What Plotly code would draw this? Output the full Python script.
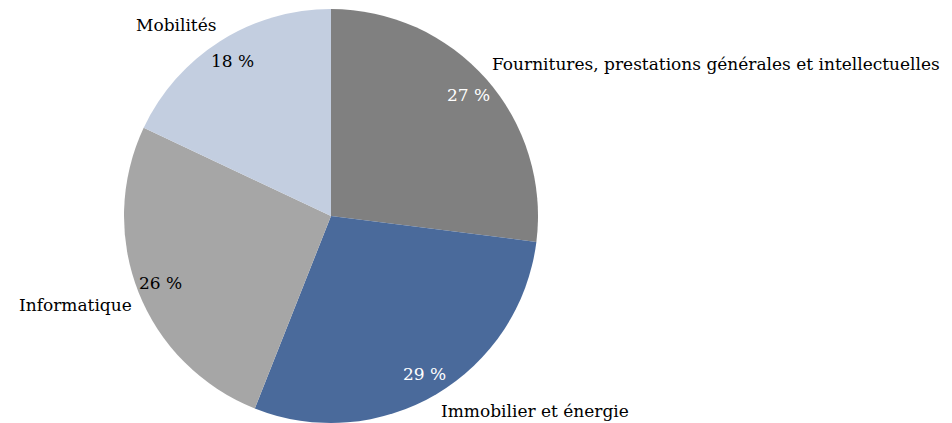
import math
import plotly.graph_objects as go

categories = ["Fournitures, prestations générales et intellectuelles",
              "Immobilier et énergie", "Informatique", "Mobilités"]
values = [27, 29, 26, 18]
colors = ["#808080", "#4A6A9B", "#A6A6A6", "#C3CEE0"]
pct_colors = ["white", "white", "black", "black"]

# page body has an 8px margin: figure origin sits at page (8, 8)
OFF = 8
W, H = 952 - OFF, 423 - OFF
CX, CY = 331 - OFF, 216 - OFF
R = H - CY
FONT = "DejaVu Serif"
FS = 17

fig = go.Figure(go.Pie(
    labels=categories, values=values, sort=False, direction="clockwise",
    rotation=0, marker=dict(colors=colors, line=dict(width=0)),
    textinfo="none", hoverinfo="label+percent", showlegend=False,
    domain=dict(x=[(CX - 230) / W, (CX + 230) / W],
                y=[0, 2 * R / H]),
))

annotations = []
total = sum(values)
cum = 0
for cat, v, pc in zip(categories, values, pct_colors):
    mid = (cum + v / 2) / total * 2 * math.pi
    cum += v
    s, c = math.sin(mid), math.cos(mid)
    px, py = CX + 0.885 * R * s, CY - 0.885 * R * c
    annotations.append(dict(x=px / W, y=1 - py / H, xref="paper", yref="paper",
                            text=f"{v} %", showarrow=False,
                            font=dict(family=FONT, size=FS, color=pc),
                            xanchor="center", yanchor="middle"))
    lx, ly = CX + 1.03 * R * s, CY - 1.03 * R * c
    annotations.append(dict(x=lx / W, y=1 - ly / H, xref="paper", yref="paper",
                            text=cat, showarrow=False, borderpad=0,
                            font=dict(family=FONT, size=FS, color="black"),
                            xanchor="left" if s > 0 else "right",
                            yanchor="bottom" if c > 0 else "top"))

fig.update_layout(width=W, height=H, margin=dict(l=0, r=0, t=0, b=0),
                  paper_bgcolor="white", plot_bgcolor="white",
                  annotations=annotations)
fig.write_html("out.html")
